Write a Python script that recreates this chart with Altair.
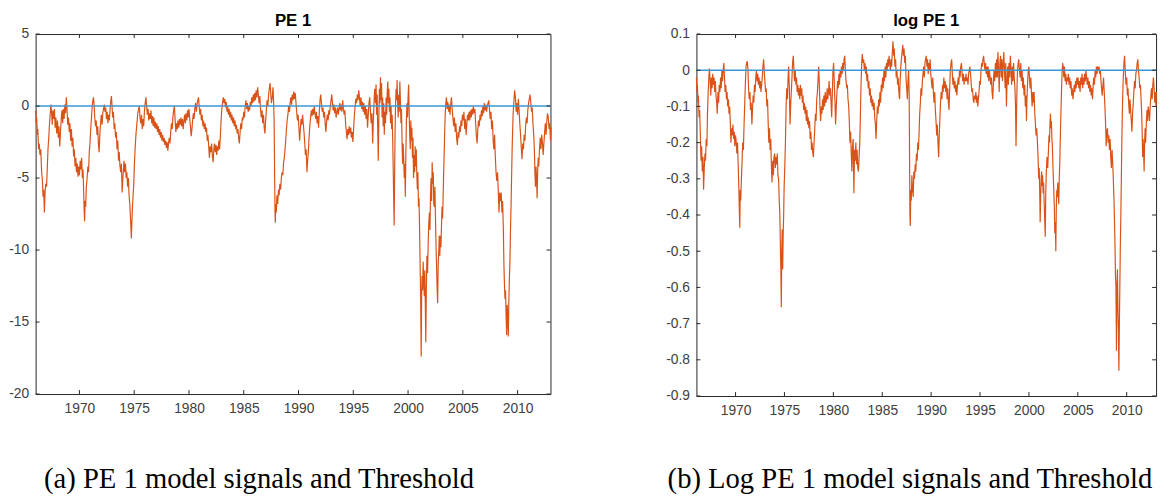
import altair as alt
import pandas as pd

# ---------------- data ----------------
# (year, PE 1 model signal)
pe1_points = [
    (1966.00, -0.3), (1966.05, -1.2), (1966.10, -0.8), (1966.15, -2.0), (1966.20, -1.6), (1966.27, -3.0), (1966.33, -2.6),
    (1966.40, -3.4), (1966.47, -3.0), (1966.55, -4.6), (1966.62, -5.2), (1966.68, -6.3), (1966.74, -5.8), (1966.80, -7.4),
    (1966.86, -6.0), (1966.92, -5.4),
    (1967.00, -5.6), (1967.07, -4.2), (1967.13, -3.0), (1967.20, -2.2), (1967.27, -1.2), (1967.33, -0.6), (1967.40, 0.1),
    (1967.46, -0.5), (1967.52, -1.3), (1967.58, -0.3), (1967.65, -0.9), (1967.72, -0.2), (1967.78, -1.5), (1967.85, -0.8),
    (1967.92, -1.9),
    (1968.00, -1.0), (1968.07, -2.2), (1968.13, -1.4), (1968.20, -2.8), (1968.27, -1.8), (1968.33, -1.0), (1968.40, -0.3),
    (1968.47, -1.2), (1968.53, -0.2), (1968.60, -0.9), (1968.67, 0.1), (1968.73, -0.5), (1968.80, 0.6), (1968.87, -0.3),
    (1968.93, -1.3),
    (1969.00, -0.8), (1969.07, -1.8), (1969.13, -1.2), (1969.20, -2.4), (1969.27, -1.6), (1969.33, -2.8), (1969.40, -2.2),
    (1969.47, -3.5), (1969.53, -3.0), (1969.60, -4.2), (1969.67, -3.6), (1969.73, -4.6), (1969.80, -4.0), (1969.87, -4.9),
    (1969.93, -4.2),
    (1970.00, -4.8), (1970.07, -3.8), (1970.13, -4.4), (1970.20, -3.6), (1970.27, -5.0), (1970.33, -4.4), (1970.38, -5.8),
    (1970.43, -7.2), (1970.47, -8.0), (1970.52, -6.6), (1970.57, -7.0), (1970.63, -5.6), (1970.70, -5.0), (1970.77, -4.2),
    (1970.83, -4.6), (1970.90, -3.2), (1970.96, -2.6),
    (1971.03, -1.6), (1971.10, -0.8), (1971.17, 0.0), (1971.23, 0.4), (1971.28, 0.6), (1971.33, 0.2), (1971.40, -0.8),
    (1971.47, -1.4), (1971.53, -1.0), (1971.60, -2.0), (1971.67, -1.4), (1971.73, -2.6), (1971.80, -3.2), (1971.86, -2.0),
    (1971.93, -1.2),
    (1972.00, -0.6), (1972.07, -1.3), (1972.13, -0.5), (1972.20, -0.2), (1972.27, 0.1), (1972.33, -0.4), (1972.40, -0.1),
    (1972.47, -0.9), (1972.53, -0.4), (1972.60, -1.2), (1972.67, -0.6), (1972.73, -1.0), (1972.80, -0.2), (1972.87, 0.4),
    (1972.92, 0.7), (1972.97, 0.1),
    (1973.03, -0.8), (1973.10, -0.4), (1973.17, -1.6), (1973.23, -1.2), (1973.30, -2.2), (1973.37, -1.8), (1973.43, -3.0),
    (1973.50, -2.4), (1973.57, -3.8), (1973.63, -3.2), (1973.70, -4.2), (1973.77, -4.6), (1973.83, -4.0), (1973.90, -6.0),
    (1973.95, -5.2),
    (1974.00, -4.6), (1974.07, -3.8), (1974.13, -4.6), (1974.20, -4.0), (1974.27, -5.0), (1974.33, -4.6), (1974.40, -5.6),
    (1974.47, -5.0), (1974.53, -6.2), (1974.60, -6.8), (1974.65, -7.6), (1974.70, -8.4), (1974.74, -9.2), (1974.78, -8.2),
    (1974.84, -7.0), (1974.90, -6.2), (1974.96, -5.4),
    (1975.02, -4.0), (1975.08, -3.0), (1975.14, -2.2), (1975.20, -1.6), (1975.27, -1.0), (1975.33, -0.5), (1975.40, -0.2),
    (1975.47, 0.0), (1975.53, -0.8), (1975.60, -1.2), (1975.67, -0.6), (1975.73, -1.6), (1975.80, -0.9), (1975.87, -1.4),
    (1975.93, -0.4),
    (1976.00, 0.2), (1976.07, 0.6), (1976.13, 0.0), (1976.20, -0.6), (1976.27, -0.2), (1976.33, -1.0), (1976.40, -0.5),
    (1976.47, -0.9), (1976.53, -0.3), (1976.60, -1.2), (1976.67, -0.7), (1976.73, -1.4), (1976.80, -0.8), (1976.87, -1.5),
    (1976.93, -1.1),
    (1977.00, -1.6), (1977.07, -1.2), (1977.13, -1.8), (1977.20, -1.4), (1977.27, -2.0), (1977.33, -1.6), (1977.40, -2.2),
    (1977.47, -1.8), (1977.53, -2.4), (1977.60, -2.0), (1977.67, -2.5), (1977.73, -2.2), (1977.80, -2.7), (1977.87, -2.4),
    (1977.93, -2.9),
    (1978.00, -2.5), (1978.07, -3.1), (1978.13, -2.6), (1978.20, -2.2), (1978.27, -2.6), (1978.33, -1.8), (1978.40, -1.2),
    (1978.47, -1.6), (1978.53, -0.8), (1978.60, -0.3), (1978.67, 0.0), (1978.73, -0.9), (1978.80, -1.8), (1978.87, -1.2),
    (1978.93, -1.6),
    (1979.00, -1.0), (1979.07, -1.5), (1979.13, -0.9), (1979.20, -1.3), (1979.27, -0.8), (1979.33, -1.4), (1979.40, -0.9),
    (1979.47, -1.6), (1979.53, -1.1), (1979.60, -0.6), (1979.67, -1.2), (1979.73, -0.5), (1979.80, -1.0), (1979.87, -0.3),
    (1979.93, -0.8),
    (1980.00, -0.2), (1980.07, -0.9), (1980.13, -1.4), (1980.20, -2.1), (1980.27, -1.6), (1980.33, -1.0), (1980.40, -0.5),
    (1980.47, -0.9), (1980.53, -0.2), (1980.60, 0.2), (1980.67, -0.4), (1980.73, 0.1), (1980.80, 0.4), (1980.87, 0.6),
    (1980.93, 0.0),
    (1981.00, -0.6), (1981.07, -0.2), (1981.13, -1.0), (1981.20, -0.6), (1981.27, -1.4), (1981.33, -1.0), (1981.40, -1.6),
    (1981.47, -1.2), (1981.53, -1.8), (1981.60, -1.5), (1981.67, -2.4), (1981.73, -2.0), (1981.80, -2.8), (1981.87, -3.6),
    (1981.93, -2.8),
    (1982.00, -3.2), (1982.07, -2.6), (1982.13, -3.4), (1982.20, -3.9), (1982.27, -3.0), (1982.33, -2.6), (1982.40, -3.2),
    (1982.47, -2.7), (1982.53, -3.4), (1982.60, -2.8), (1982.67, -3.1), (1982.73, -2.4), (1982.80, -3.0), (1982.87, -2.0),
    (1982.93, -1.0),
    (1983.00, -0.2), (1983.07, 0.3), (1983.13, 0.6), (1983.20, 0.2), (1983.27, 0.5), (1983.33, -0.1), (1983.40, 0.3),
    (1983.47, -0.4), (1983.53, 0.0), (1983.60, -0.6), (1983.67, -0.2), (1983.73, -0.8), (1983.80, -0.4), (1983.87, -1.0),
    (1983.93, -0.6),
    (1984.00, -1.2), (1984.07, -0.8), (1984.13, -1.4), (1984.20, -1.0), (1984.27, -1.6), (1984.33, -1.3), (1984.40, -1.9),
    (1984.47, -1.6), (1984.53, -2.2), (1984.60, -2.6), (1984.67, -1.8), (1984.73, -1.2), (1984.80, -1.6), (1984.87, -0.8),
    (1984.93, -1.0),
    (1985.00, -0.4), (1985.07, -0.8), (1985.13, 0.0), (1985.20, 0.4), (1985.27, -0.2), (1985.33, 0.2), (1985.40, -0.4),
    (1985.47, 0.0), (1985.53, -0.3), (1985.60, 0.3), (1985.67, 0.0), (1985.73, 0.6), (1985.80, 0.2), (1985.87, 0.8),
    (1985.93, 0.3),
    (1986.00, 0.9), (1986.07, 0.4), (1986.13, 1.1), (1986.20, 0.6), (1986.27, 1.3), (1986.33, 0.8), (1986.40, 0.2),
    (1986.47, 0.7), (1986.53, -0.2), (1986.60, -0.8), (1986.67, -0.3), (1986.73, -1.2), (1986.80, -0.6), (1986.87, -1.5),
    (1986.93, -1.9),
    (1987.00, -1.0), (1987.07, -0.2), (1987.13, 0.4), (1987.20, 0.0), (1987.27, 0.8), (1987.33, 1.2), (1987.40, 1.6),
    (1987.47, 0.8), (1987.53, 0.2), (1987.60, 0.6), (1987.67, 1.3), (1987.72, 0.4), (1987.77, -1.0), (1987.81, -4.0),
    (1987.85, -7.2), (1987.88, -8.1), (1987.93, -6.8), (1987.97, -7.4),
    (1988.03, -6.2), (1988.10, -6.8), (1988.17, -5.8), (1988.23, -6.2), (1988.30, -5.4), (1988.37, -5.8), (1988.43, -5.0),
    (1988.50, -4.6), (1988.57, -4.8), (1988.63, -4.0), (1988.70, -3.6), (1988.77, -3.0), (1988.83, -2.4), (1988.90, -1.6),
    (1988.96, -1.0),
    (1989.03, -0.6), (1989.10, 0.0), (1989.17, -0.4), (1989.23, 0.2), (1989.30, 0.6), (1989.37, 0.1), (1989.43, 0.8),
    (1989.50, 0.4), (1989.57, 1.0), (1989.63, 0.5), (1989.70, 0.9), (1989.77, 0.2), (1989.83, -0.4), (1989.90, -1.0),
    (1989.96, -0.6),
    (1990.03, -1.4), (1990.10, -2.4), (1990.17, -1.6), (1990.23, -0.9), (1990.30, -1.3), (1990.37, -0.6), (1990.43, -1.2),
    (1990.50, -1.8), (1990.57, -2.6), (1990.63, -3.4), (1990.70, -3.0), (1990.77, -4.6), (1990.83, -3.8), (1990.90, -3.2),
    (1990.96, -2.2),
    (1991.03, -1.4), (1991.10, -0.8), (1991.17, -0.3), (1991.23, -0.7), (1991.30, -0.2), (1991.37, -0.6), (1991.43, 0.0),
    (1991.50, -0.5), (1991.57, -0.9), (1991.63, -0.4), (1991.70, -1.2), (1991.77, -0.7), (1991.83, -1.5), (1991.90, -0.4),
    (1991.96, 0.4),
    (1992.03, 0.8), (1992.10, 0.1), (1992.17, -0.4), (1992.23, -0.1), (1992.30, -0.8), (1992.37, -0.4), (1992.43, -1.2),
    (1992.50, -1.8), (1992.57, -1.0), (1992.63, -0.6), (1992.70, -1.0), (1992.77, -0.3), (1992.83, -0.6), (1992.90, 0.0),
    (1992.96, 0.3),
    (1993.03, 0.8), (1993.10, 0.2), (1993.17, -0.3), (1993.23, 0.1), (1993.30, -0.5), (1993.37, -0.1), (1993.43, -0.8),
    (1993.50, -0.4), (1993.57, -0.1), (1993.63, -0.6), (1993.70, -0.2), (1993.77, 0.2), (1993.83, -0.3), (1993.90, 0.1),
    (1993.96, -0.4),
    (1994.03, 0.4), (1994.10, -0.2), (1994.17, -0.6), (1994.23, -0.3), (1994.30, -1.2), (1994.37, -1.8), (1994.43, -2.3),
    (1994.50, -1.6), (1994.57, -2.0), (1994.63, -1.4), (1994.70, -1.9), (1994.77, -1.5), (1994.83, -2.2), (1994.90, -1.8),
    (1994.96, -2.5),
    (1995.03, -1.6), (1995.10, -0.6), (1995.17, 0.0), (1995.23, 0.5), (1995.30, 0.2), (1995.37, 0.8), (1995.43, 0.4),
    (1995.50, 1.1), (1995.57, 0.5), (1995.63, 0.0), (1995.70, 0.6), (1995.77, -0.2), (1995.83, 0.3), (1995.90, -0.4),
    (1995.96, 0.2),
    (1996.03, -0.6), (1996.10, 0.0), (1996.17, -0.9), (1996.23, -0.2), (1996.30, -1.5), (1996.37, -0.6), (1996.43, 0.2),
    (1996.50, 0.6), (1996.57, -0.4), (1996.63, -1.2), (1996.70, -0.5), (1996.77, -2.6), (1996.83, -1.0), (1996.90, 0.4),
    (1996.96, 1.2),
    (1997.03, 0.2), (1997.08, 1.5), (1997.13, -0.6), (1997.18, 0.8), (1997.23, -1.6), (1997.28, -3.8), (1997.33, -1.0),
    (1997.38, 1.2), (1997.43, 0.2), (1997.48, 2.0), (1997.53, 0.4), (1997.58, 1.6), (1997.63, -0.8), (1997.68, 0.6),
    (1997.73, -1.4), (1997.78, 0.2), (1997.83, -2.0), (1997.88, -0.4), (1997.94, -1.2),
    (1998.00, 0.6), (1998.05, -0.6), (1998.10, 1.0), (1998.15, 1.7), (1998.20, 0.2), (1998.25, 1.2), (1998.30, -0.4),
    (1998.35, 0.6), (1998.40, -1.2), (1998.45, 0.0), (1998.50, -1.6), (1998.55, -0.6), (1998.60, -2.4), (1998.65, -4.6),
    (1998.70, -7.0), (1998.73, -8.3), (1998.77, -5.0), (1998.81, -2.0), (1998.86, 0.2), (1998.91, 1.2), (1998.96, 0.4),
    (1999.00, 1.8), (1999.05, 0.2), (1999.10, -0.8), (1999.15, 0.8), (1999.20, -0.4), (1999.25, 1.7), (1999.30, 0.4),
    (1999.35, -1.2), (1999.40, -0.2), (1999.45, -2.4), (1999.50, -4.0), (1999.55, -2.6), (1999.60, -3.6), (1999.65, -5.0),
    (1999.70, -4.0), (1999.75, -6.3), (1999.80, -3.2), (1999.85, -1.0), (1999.90, 0.2), (1999.95, -0.8),
    (2000.00, 0.6), (2000.05, 1.5), (2000.10, -0.4), (2000.15, -2.0), (2000.20, -3.0), (2000.25, -1.0), (2000.30, -2.4),
    (2000.35, -1.5), (2000.40, -3.6), (2000.45, -2.2), (2000.50, -5.0), (2000.55, -3.4), (2000.60, -4.6), (2000.65, -2.8),
    (2000.70, -4.2), (2000.75, -3.0), (2000.80, -4.8), (2000.85, -5.8), (2000.90, -4.6), (2000.95, -7.0),
    (2001.00, -6.4), (2001.05, -8.4), (2001.10, -11.0), (2001.15, -13.4), (2001.20, -17.4), (2001.24, -13.0),
    (2001.28, -11.8), (2001.33, -12.8), (2001.38, -10.8), (2001.43, -12.2), (2001.48, -13.2), (2001.53, -11.4),
    (2001.58, -14.0), (2001.62, -16.4), (2001.67, -12.6), (2001.72, -10.4), (2001.78, -11.6), (2001.84, -9.4),
    (2001.90, -8.0), (2001.95, -7.4),
    (2002.00, -8.6), (2002.05, -6.2), (2002.10, -5.0), (2002.15, -6.6), (2002.20, -3.9), (2002.25, -5.4), (2002.30, -4.6),
    (2002.35, -6.8), (2002.40, -7.0), (2002.45, -5.6), (2002.50, -7.6), (2002.55, -9.6), (2002.60, -11.0),
    (2002.65, -12.6), (2002.70, -13.7), (2002.75, -11.0), (2002.80, -10.2), (2002.85, -9.0), (2002.90, -10.4),
    (2002.95, -9.0),
    (2003.00, -9.8), (2003.05, -8.4), (2003.10, -7.0), (2003.15, -7.8), (2003.20, -6.4), (2003.25, -4.6), (2003.30, -3.2),
    (2003.35, -1.6), (2003.40, -0.4), (2003.45, 0.2), (2003.50, 0.6), (2003.57, -0.2), (2003.63, 0.3), (2003.70, -0.4),
    (2003.77, 0.1), (2003.83, -0.6), (2003.90, 0.2), (2003.96, 0.6),
    (2004.03, -0.2), (2004.10, -0.9), (2004.17, -1.4), (2004.23, -0.8), (2004.30, -1.8), (2004.37, -1.2), (2004.43, -2.2),
    (2004.50, -2.7), (2004.57, -1.8), (2004.63, -2.2), (2004.70, -1.4), (2004.77, -1.8), (2004.83, -1.0), (2004.90, -1.4),
    (2004.96, -0.6),
    (2005.03, -1.0), (2005.10, -0.4), (2005.17, -1.6), (2005.23, -0.9), (2005.30, -2.0), (2005.37, -1.2), (2005.43, -0.6),
    (2005.50, -1.0), (2005.57, -0.4), (2005.63, -1.0), (2005.70, -0.3), (2005.77, -0.8), (2005.83, -0.2), (2005.90, -0.6),
    (2005.96, 0.0),
    (2006.03, -0.5), (2006.10, -0.2), (2006.17, -1.2), (2006.23, -2.0), (2006.30, -2.6), (2006.37, -1.6), (2006.43, -1.0),
    (2006.50, -1.4), (2006.57, -0.6), (2006.63, -1.0), (2006.70, -0.3), (2006.77, -0.7), (2006.83, 0.0), (2006.90, -0.5),
    (2006.96, 0.2),
    (2007.03, -0.3), (2007.10, 0.1), (2007.17, -0.4), (2007.23, 0.0), (2007.30, 0.2), (2007.37, 0.4), (2007.43, -0.2),
    (2007.50, -0.9), (2007.57, -0.4), (2007.63, -1.6), (2007.70, -1.0), (2007.77, -2.4), (2007.83, -3.0), (2007.90, -2.0),
    (2007.96, -3.4),
    (2008.03, -4.6), (2008.10, -5.2), (2008.17, -4.6), (2008.23, -5.8), (2008.30, -7.4), (2008.37, -6.0), (2008.43, -6.6),
    (2008.50, -6.0), (2008.57, -7.4), (2008.63, -6.6), (2008.70, -8.6), (2008.75, -11.0), (2008.80, -12.4),
    (2008.85, -13.4), (2008.90, -12.8), (2008.95, -14.6),
    (2009.00, -15.9), (2009.05, -13.8), (2009.10, -14.6), (2009.15, -16.0), (2009.20, -13.6), (2009.25, -12.0),
    (2009.30, -10.8), (2009.35, -8.6), (2009.40, -7.0), (2009.45, -5.0), (2009.50, -3.0), (2009.55, -1.6), (2009.60, -0.4),
    (2009.67, 0.4), (2009.73, 1.1), (2009.80, 0.6), (2009.87, -0.4), (2009.93, 0.2),
    (2010.00, -0.6), (2010.07, 0.5), (2010.13, -0.2), (2010.20, -1.2), (2010.27, -2.0), (2010.33, -2.8), (2010.40, -3.7),
    (2010.47, -2.6), (2010.53, -3.0), (2010.60, -2.0), (2010.67, -2.4), (2010.73, -1.4), (2010.80, -0.8), (2010.87, -1.2),
    (2010.93, -0.3),
    (2011.00, 0.2), (2011.07, 0.5), (2011.13, 0.8), (2011.20, 0.3), (2011.27, -0.4), (2011.33, -0.1), (2011.40, -1.2),
    (2011.47, -2.0), (2011.53, -3.0), (2011.58, -4.6), (2011.63, -5.6), (2011.68, -4.2), (2011.73, -5.0), (2011.78, -6.4),
    (2011.83, -4.6), (2011.88, -3.6), (2011.93, -4.2),
    (2012.00, -3.0), (2012.07, -2.2), (2012.13, -3.0), (2012.20, -2.0), (2012.27, -2.6), (2012.33, -3.4), (2012.40, -2.6),
    (2012.47, -1.8), (2012.53, -1.2), (2012.60, -2.0), (2012.67, -1.0), (2012.73, -0.5), (2012.80, -0.8), (2012.87, -1.6),
    (2012.93, -1.2),
    (2013.00, -2.4), (2013.06, -1.5),
]

# (year, log PE 1 model signal)
logpe1_points = [
    (1966.00, -0.02), (1966.05, -0.06), (1966.10, -0.04), (1966.15, -0.09), (1966.20, -0.07), (1966.27, -0.13),
    (1966.33, -0.11), (1966.40, -0.18), (1966.47, -0.25), (1966.53, -0.21), (1966.60, -0.28), (1966.67, -0.24),
    (1966.73, -0.33), (1966.80, -0.27), (1966.87, -0.23), (1966.93, -0.25),
    (1967.00, -0.19), (1967.07, -0.21), (1967.13, -0.12), (1967.20, -0.06), (1967.27, -0.02), (1967.33, 0.005),
    (1967.40, -0.03), (1967.47, -0.07), (1967.53, -0.02), (1967.60, -0.05), (1967.67, -0.01), (1967.73, -0.04),
    (1967.80, -0.02), (1967.87, -0.06), (1967.93, -0.03),
    (1968.00, -0.07), (1968.07, -0.09), (1968.13, -0.12), (1968.20, -0.06), (1968.27, -0.09), (1968.33, -0.04),
    (1968.40, -0.06), (1968.47, -0.02), (1968.53, -0.05), (1968.60, 0.0), (1968.67, -0.03), (1968.73, 0.0),
    (1968.80, 0.02), (1968.87, -0.02), (1968.93, -0.06),
    (1969.00, -0.04), (1969.07, -0.08), (1969.13, -0.06), (1969.20, -0.10), (1969.27, -0.08), (1969.33, -0.12),
    (1969.40, -0.10), (1969.47, -0.15), (1969.53, -0.20), (1969.60, -0.16), (1969.67, -0.18), (1969.73, -0.15),
    (1969.80, -0.19), (1969.87, -0.17), (1969.93, -0.21),
    (1970.00, -0.18), (1970.07, -0.20), (1970.13, -0.23), (1970.20, -0.20), (1970.27, -0.26), (1970.33, -0.32),
    (1970.38, -0.38), (1970.43, -0.435), (1970.48, -0.33), (1970.53, -0.36), (1970.60, -0.30), (1970.67, -0.25),
    (1970.73, -0.20), (1970.80, -0.22), (1970.87, -0.15), (1970.93, -0.10),
    (1971.00, -0.04), (1971.07, 0.01), (1971.13, 0.02), (1971.20, 0.025), (1971.27, 0.0), (1971.33, -0.05),
    (1971.40, -0.08), (1971.47, -0.06), (1971.53, -0.11), (1971.60, -0.09), (1971.67, -0.15), (1971.73, -0.11),
    (1971.80, -0.07), (1971.87, -0.09), (1971.93, -0.04),
    (1972.00, -0.06), (1972.07, -0.02), (1972.13, 0.0), (1972.20, -0.03), (1972.27, -0.01), (1972.33, -0.04),
    (1972.40, -0.02), (1972.47, -0.05), (1972.53, -0.03), (1972.60, -0.06), (1972.67, -0.04), (1972.73, -0.02),
    (1972.80, 0.01), (1972.87, 0.03), (1972.93, 0.0),
    (1973.00, -0.03), (1973.07, -0.06), (1973.13, -0.05), (1973.20, -0.10), (1973.27, -0.08), (1973.33, -0.14),
    (1973.40, -0.20), (1973.47, -0.16), (1973.53, -0.22), (1973.60, -0.19), (1973.67, -0.27), (1973.73, -0.31),
    (1973.80, -0.25), (1973.87, -0.29), (1973.93, -0.24),
    (1974.00, -0.23), (1974.07, -0.27), (1974.13, -0.24), (1974.20, -0.26), (1974.27, -0.23), (1974.33, -0.29),
    (1974.40, -0.30), (1974.47, -0.36), (1974.53, -0.40), (1974.58, -0.48), (1974.63, -0.55), (1974.68, -0.655),
    (1974.72, -0.50), (1974.77, -0.44), (1974.82, -0.55), (1974.87, -0.45), (1974.92, -0.40), (1974.97, -0.32),
    (1975.03, -0.27), (1975.10, -0.20), (1975.17, -0.10), (1975.23, -0.05), (1975.30, -0.08), (1975.37, -0.02),
    (1975.43, 0.01), (1975.50, -0.05), (1975.57, -0.15), (1975.63, -0.10), (1975.70, -0.06), (1975.77, -0.02),
    (1975.83, 0.02), (1975.90, 0.04), (1975.96, 0.01),
    (1976.03, -0.03), (1976.10, 0.0), (1976.17, -0.04), (1976.23, -0.02), (1976.30, -0.06), (1976.37, -0.04),
    (1976.43, -0.07), (1976.50, -0.05), (1976.57, -0.08), (1976.63, -0.04), (1976.70, -0.07), (1976.77, -0.05),
    (1976.83, -0.09), (1976.90, -0.07), (1976.96, -0.11),
    (1977.03, -0.09), (1977.10, -0.12), (1977.17, -0.10), (1977.23, -0.14), (1977.30, -0.11), (1977.37, -0.15),
    (1977.43, -0.13), (1977.50, -0.16), (1977.57, -0.14), (1977.63, -0.19), (1977.70, -0.17), (1977.77, -0.22),
    (1977.83, -0.20), (1977.90, -0.23), (1977.96, -0.24),
    (1978.03, -0.20), (1978.10, -0.16), (1978.17, -0.12), (1978.23, -0.14), (1978.30, -0.08), (1978.37, -0.06),
    (1978.43, -0.03), (1978.50, 0.01), (1978.57, -0.04), (1978.63, -0.10), (1978.70, -0.14), (1978.77, -0.10),
    (1978.83, -0.12), (1978.90, -0.08), (1978.96, -0.11),
    (1979.03, -0.07), (1979.10, -0.10), (1979.17, -0.06), (1979.23, -0.09), (1979.30, -0.08), (1979.37, -0.05),
    (1979.43, -0.08), (1979.50, -0.06), (1979.57, -0.03), (1979.63, -0.07), (1979.70, -0.05), (1979.77, -0.09),
    (1979.83, -0.13), (1979.90, -0.06), (1979.96, 0.0),
    (1980.03, 0.02), (1980.10, -0.04), (1980.17, -0.09), (1980.23, -0.15), (1980.30, -0.10), (1980.37, -0.06),
    (1980.43, -0.03), (1980.50, -0.05), (1980.57, -0.01), (1980.63, -0.04), (1980.70, 0.0), (1980.77, -0.02),
    (1980.83, 0.01), (1980.90, -0.01), (1980.96, 0.02),
    (1981.03, 0.0), (1981.10, 0.03), (1981.17, 0.04), (1981.23, 0.0), (1981.30, -0.03), (1981.37, -0.05),
    (1981.43, -0.04), (1981.50, -0.08), (1981.57, -0.10), (1981.63, -0.14), (1981.70, -0.20), (1981.77, -0.17),
    (1981.83, -0.23), (1981.90, -0.28), (1981.96, -0.21),
    (1982.03, -0.19), (1982.10, -0.34), (1982.17, -0.22), (1982.23, -0.25), (1982.30, -0.20), (1982.37, -0.26),
    (1982.43, -0.22), (1982.50, -0.27), (1982.57, -0.28), (1982.63, -0.24), (1982.70, -0.20), (1982.77, -0.12),
    (1982.83, -0.04), (1982.90, 0.02), (1982.96, 0.045),
    (1983.03, 0.02), (1983.10, 0.03), (1983.17, 0.0), (1983.23, 0.02), (1983.30, -0.01), (1983.37, 0.01),
    (1983.43, -0.03), (1983.50, -0.01), (1983.57, -0.05), (1983.63, -0.03), (1983.70, -0.07), (1983.77, -0.05),
    (1983.83, -0.09), (1983.90, -0.07), (1983.96, -0.10),
    (1984.03, -0.08), (1984.10, -0.11), (1984.17, -0.09), (1984.23, -0.13), (1984.30, -0.15), (1984.37, -0.19),
    (1984.43, -0.14), (1984.50, -0.10), (1984.57, -0.12), (1984.63, -0.08), (1984.70, -0.10), (1984.77, -0.06),
    (1984.83, -0.09), (1984.90, -0.04), (1984.96, -0.06),
    (1985.03, -0.02), (1985.10, -0.05), (1985.17, 0.0), (1985.23, -0.03), (1985.30, 0.01), (1985.37, -0.02),
    (1985.43, 0.02), (1985.50, 0.0), (1985.57, 0.03), (1985.63, 0.01), (1985.70, 0.04), (1985.77, 0.02),
    (1985.83, 0.0), (1985.90, 0.03), (1985.96, 0.01),
    (1986.03, 0.05), (1986.10, 0.08), (1986.17, 0.04), (1986.23, 0.06), (1986.30, 0.01), (1986.37, 0.03),
    (1986.43, -0.02), (1986.50, 0.0), (1986.57, -0.04), (1986.63, -0.02), (1986.70, -0.06), (1986.77, -0.08),
    (1986.83, -0.03), (1986.90, 0.01), (1986.96, 0.03),
    (1987.03, 0.05), (1987.10, 0.07), (1987.17, 0.04), (1987.23, 0.06), (1987.30, 0.02), (1987.37, 0.04),
    (1987.43, -0.02), (1987.50, -0.05), (1987.57, -0.08), (1987.63, -0.03), (1987.70, 0.0), (1987.75, -0.06),
    (1987.79, -0.22), (1987.83, -0.40), (1987.87, -0.43), (1987.92, -0.33), (1987.97, -0.36),
    (1988.03, -0.29), (1988.10, -0.33), (1988.17, -0.35), (1988.23, -0.28), (1988.30, -0.30), (1988.37, -0.26),
    (1988.43, -0.28), (1988.50, -0.23), (1988.57, -0.25), (1988.63, -0.20), (1988.70, -0.22), (1988.77, -0.17),
    (1988.83, -0.12), (1988.90, -0.09), (1988.96, -0.05),
    (1989.03, -0.07), (1989.10, -0.03), (1989.17, -0.01), (1989.23, 0.01), (1989.30, -0.02), (1989.37, 0.02),
    (1989.43, 0.03), (1989.50, 0.04), (1989.57, 0.01), (1989.63, 0.03), (1989.70, -0.01), (1989.77, 0.02),
    (1989.83, 0.0), (1989.90, 0.03), (1989.96, -0.01),
    (1990.03, -0.03), (1990.10, -0.05), (1990.17, -0.02), (1990.23, -0.06), (1990.30, -0.09), (1990.37, -0.06),
    (1990.43, -0.11), (1990.50, -0.14), (1990.57, -0.18), (1990.63, -0.15), (1990.70, -0.20), (1990.77, -0.24),
    (1990.83, -0.18), (1990.90, -0.13), (1990.96, -0.09),
    (1991.03, -0.06), (1991.10, -0.08), (1991.17, -0.04), (1991.23, -0.06), (1991.30, -0.02), (1991.37, -0.05),
    (1991.43, -0.03), (1991.50, -0.06), (1991.57, -0.04), (1991.63, -0.08), (1991.70, -0.05), (1991.77, -0.09),
    (1991.83, -0.11), (1991.90, -0.05), (1991.96, 0.0),
    (1992.03, 0.02), (1992.10, 0.03), (1992.17, -0.01), (1992.23, -0.04), (1992.30, -0.02), (1992.37, -0.05),
    (1992.43, -0.03), (1992.50, -0.06), (1992.57, -0.04), (1992.63, -0.07), (1992.70, -0.04), (1992.77, -0.02),
    (1992.83, -0.04), (1992.90, 0.0), (1992.96, -0.02),
    (1993.03, 0.01), (1993.10, 0.02), (1993.17, -0.01), (1993.23, -0.03), (1993.30, -0.01), (1993.37, -0.04),
    (1993.43, -0.02), (1993.50, -0.03), (1993.57, -0.01), (1993.63, -0.03), (1993.70, -0.02), (1993.77, -0.04),
    (1993.83, -0.01), (1993.90, 0.0), (1993.96, 0.01),
    (1994.03, -0.01), (1994.10, -0.04), (1994.17, -0.06), (1994.23, -0.05), (1994.30, -0.08), (1994.37, -0.09),
    (1994.43, -0.07), (1994.50, -0.08), (1994.57, -0.06), (1994.63, -0.09), (1994.70, -0.07), (1994.77, -0.10),
    (1994.83, -0.08), (1994.90, -0.06), (1994.96, -0.03),
    (1995.03, -0.04), (1995.10, 0.0), (1995.17, 0.02), (1995.23, 0.01), (1995.30, 0.03), (1995.37, 0.04),
    (1995.43, 0.02), (1995.50, 0.0), (1995.57, 0.02), (1995.63, -0.01), (1995.70, 0.01), (1995.77, -0.02),
    (1995.83, 0.01), (1995.90, -0.03), (1995.96, 0.0),
    (1996.03, -0.02), (1996.10, -0.04), (1996.17, -0.02), (1996.23, -0.06), (1996.30, -0.08), (1996.37, -0.03),
    (1996.43, 0.0), (1996.50, -0.03), (1996.57, 0.02), (1996.63, -0.02), (1996.70, 0.03), (1996.77, -0.02),
    (1996.83, 0.05), (1996.90, 0.0), (1996.96, -0.06),
    (1997.03, 0.02), (1997.10, 0.04), (1997.17, -0.02), (1997.23, 0.03), (1997.30, -0.03), (1997.37, 0.02),
    (1997.43, 0.05), (1997.50, 0.0), (1997.57, -0.05), (1997.63, 0.02), (1997.70, -0.10), (1997.77, -0.03),
    (1997.83, 0.01), (1997.90, -0.04), (1997.96, 0.02),
    (1998.03, -0.02), (1998.10, 0.04), (1998.17, 0.0), (1998.23, -0.04), (1998.30, 0.01), (1998.37, -0.03),
    (1998.43, 0.02), (1998.50, -0.02), (1998.57, -0.05), (1998.63, -0.10), (1998.68, -0.21), (1998.73, -0.12),
    (1998.78, -0.05), (1998.83, 0.0), (1998.90, 0.02), (1998.96, 0.03),
    (1999.03, 0.0), (1999.10, -0.02), (1999.17, 0.02), (1999.23, -0.03), (1999.30, 0.0), (1999.37, -0.05),
    (1999.43, -0.02), (1999.50, -0.07), (1999.57, -0.04), (1999.63, -0.10), (1999.70, -0.07), (1999.75, -0.14),
    (1999.80, -0.08), (1999.87, -0.03), (1999.93, 0.0),
    (2000.00, 0.01), (2000.07, -0.03), (2000.13, -0.05), (2000.20, -0.02), (2000.27, -0.07), (2000.33, -0.10),
    (2000.40, -0.06), (2000.47, -0.09), (2000.53, -0.06), (2000.60, -0.12), (2000.67, -0.15), (2000.73, -0.18),
    (2000.80, -0.16), (2000.87, -0.20), (2000.93, -0.24),
    (2001.00, -0.30), (2001.05, -0.27), (2001.10, -0.33), (2001.15, -0.42), (2001.20, -0.35), (2001.25, -0.30),
    (2001.30, -0.28), (2001.35, -0.32), (2001.40, -0.29), (2001.45, -0.34), (2001.50, -0.31), (2001.55, -0.36),
    (2001.60, -0.40), (2001.67, -0.46), (2001.72, -0.34), (2001.78, -0.28), (2001.85, -0.24), (2001.92, -0.27),
    (2002.00, -0.22), (2002.05, -0.18), (2002.10, -0.20), (2002.15, -0.15), (2002.20, -0.12), (2002.25, -0.16),
    (2002.30, -0.14), (2002.35, -0.19), (2002.40, -0.21), (2002.45, -0.26), (2002.50, -0.30), (2002.55, -0.34),
    (2002.60, -0.38), (2002.65, -0.45), (2002.70, -0.42), (2002.75, -0.50), (2002.80, -0.38), (2002.85, -0.33),
    (2002.90, -0.35), (2002.95, -0.31),
    (2003.00, -0.34), (2003.05, -0.37), (2003.10, -0.30), (2003.15, -0.26), (2003.20, -0.20), (2003.25, -0.14),
    (2003.30, -0.09), (2003.35, -0.04), (2003.40, 0.0), (2003.45, 0.02), (2003.50, 0.01), (2003.57, -0.02),
    (2003.63, 0.01), (2003.70, -0.03), (2003.77, -0.01), (2003.83, -0.04), (2003.90, -0.02), (2003.96, -0.03),
    (2004.03, -0.01), (2004.10, -0.04), (2004.17, -0.02), (2004.23, -0.05), (2004.30, -0.03), (2004.37, -0.07),
    (2004.43, -0.05), (2004.50, -0.08), (2004.57, -0.06), (2004.63, -0.04), (2004.70, -0.06), (2004.77, -0.03),
    (2004.83, -0.05), (2004.90, -0.02), (2004.96, -0.04),
    (2005.03, -0.02), (2005.10, -0.05), (2005.17, -0.03), (2005.23, -0.06), (2005.30, -0.02), (2005.37, -0.04),
    (2005.43, -0.01), (2005.50, -0.05), (2005.57, -0.02), (2005.63, -0.04), (2005.70, -0.01), (2005.77, -0.03),
    (2005.83, 0.0), (2005.90, -0.02), (2005.96, -0.04),
    (2006.03, -0.02), (2006.10, -0.05), (2006.17, -0.03), (2006.23, -0.06), (2006.30, -0.04), (2006.37, -0.07),
    (2006.43, -0.05), (2006.50, -0.08), (2006.57, -0.04), (2006.63, -0.02), (2006.70, -0.04), (2006.77, 0.0),
    (2006.83, -0.02), (2006.90, 0.01), (2006.96, -0.01),
    (2007.03, 0.01), (2007.10, 0.0), (2007.17, 0.01), (2007.23, -0.01), (2007.30, 0.0), (2007.37, -0.03),
    (2007.43, -0.05), (2007.50, -0.07), (2007.57, -0.04), (2007.63, -0.02), (2007.70, -0.06), (2007.77, -0.10),
    (2007.83, -0.14), (2007.90, -0.21), (2007.96, -0.17),
    (2008.03, -0.16), (2008.10, -0.20), (2008.17, -0.18), (2008.23, -0.22), (2008.30, -0.19), (2008.37, -0.24),
    (2008.43, -0.27), (2008.50, -0.22), (2008.57, -0.26), (2008.63, -0.30), (2008.70, -0.36), (2008.75, -0.42),
    (2008.80, -0.48), (2008.85, -0.57), (2008.90, -0.60), (2008.95, -0.775),
    (2009.00, -0.60), (2009.05, -0.55), (2009.10, -0.66), (2009.15, -0.72), (2009.20, -0.83), (2009.25, -0.70),
    (2009.30, -0.59), (2009.35, -0.48), (2009.40, -0.40), (2009.45, -0.30), (2009.50, -0.20), (2009.55, -0.12),
    (2009.60, -0.06), (2009.65, -0.02), (2009.72, 0.02), (2009.78, 0.04), (2009.85, 0.0), (2009.92, -0.04),
    (2010.00, -0.02), (2010.07, -0.07), (2010.13, -0.05), (2010.20, -0.09), (2010.27, -0.12), (2010.33, -0.08),
    (2010.40, -0.11), (2010.47, -0.14), (2010.53, -0.17), (2010.60, -0.12), (2010.67, -0.09), (2010.73, -0.06),
    (2010.80, -0.03), (2010.87, -0.05), (2010.93, -0.01),
    (2011.00, 0.0), (2011.07, 0.02), (2011.13, 0.03), (2011.20, 0.0), (2011.27, -0.02), (2011.33, -0.05),
    (2011.40, -0.04), (2011.47, -0.08), (2011.53, -0.12), (2011.58, -0.17), (2011.63, -0.24), (2011.68, -0.19),
    (2011.73, -0.23), (2011.78, -0.28), (2011.83, -0.20), (2011.88, -0.16), (2011.93, -0.20),
    (2012.00, -0.15), (2012.07, -0.11), (2012.13, -0.14), (2012.20, -0.10), (2012.27, -0.12), (2012.33, -0.14),
    (2012.40, -0.10), (2012.47, -0.07), (2012.53, -0.05), (2012.60, -0.08), (2012.67, -0.04), (2012.73, -0.02),
    (2012.80, -0.05), (2012.87, -0.09), (2012.93, -0.06),
    (2013.00, -0.10), (2013.04, -0.06),
]

year_ticks = [1970, 1975, 1980, 1985, 1990, 1995, 2000, 2005, 2010]
pe1_ticks = [-20, -15, -10, -5, 0, 5]
logpe1_ticks = [-0.9, -0.8, -0.7, -0.6, -0.5, -0.4, -0.3, -0.2, -0.1, 0, 0.1]
threshold = [0]
x_domain = [1966, 2013]

titles = ["PE 1", "log PE 1"]
captions = ["(a) PE 1 model signals and Threshold", "(b)  Log PE 1 model signals and Threshold"]

# ---------------- styling ----------------
ORANGE = "#D95319"
BLUE = "#3A98D8"
FRAME = "#262626"
LABEL = "#404040"
SANS = "Liberation Sans"
SERIF = "Liberation Serif"
TICK = 4


def panel(points, yticks, ydomain, title, caption, width, height, yextent, cap_x, cap_y):
    df = pd.DataFrame(points, columns=["t", "v"])
    xscale = alt.Scale(domain=x_domain, nice=False, zero=False)
    yscale = alt.Scale(domain=ydomain, nice=False, zero=False)

    xaxis = alt.Axis(
        values=year_ticks, labelExpr="'' + datum.value", ticks=False, domain=False, grid=False,
        labelFont=SANS, labelFontSize=14, labelColor=LABEL, labelPadding=8, labelFlush=False,
        title=caption, titleFont=SERIF, titleFontSize=29, titleFontWeight="normal", titleColor="black",
        titleX=cap_x, titleY=cap_y, titleAlign="center", titleBaseline="alphabetic",
    )
    yaxis = alt.Axis(
        values=yticks, labelExpr="'' + datum.value", ticks=False, domain=False, grid=False,
        labelFont=SANS, labelFontSize=14, labelColor=LABEL, labelPadding=7, labelFlush=False,
        title=None, minExtent=yextent, maxExtent=yextent,
    )
    X = alt.X("t:Q", scale=xscale, axis=xaxis)
    Y = alt.Y("v:Q", scale=yscale, axis=yaxis)

    line = alt.Chart(df).mark_line(color=ORANGE, strokeWidth=1.2).encode(x=X, y=Y)
    thr = alt.Chart(pd.DataFrame({"v": threshold})).mark_rule(color=BLUE, strokeWidth=1.5).encode(y=Y)
    xt = pd.DataFrame({"t": year_ticks})
    yt = pd.DataFrame({"v": yticks})
    xb = alt.Chart(xt).mark_rule(color=FRAME, strokeWidth=1).encode(
        x=X, y=alt.value(height), y2=alt.value(height - TICK)
    )
    xtop = alt.Chart(xt).mark_rule(color=FRAME, strokeWidth=1).encode(
        x=X, y=alt.value(0), y2=alt.value(TICK)
    )
    yl = alt.Chart(yt).mark_rule(color=FRAME, strokeWidth=1).encode(
        y=Y, x=alt.value(0), x2=alt.value(TICK)
    )
    yr = alt.Chart(yt).mark_rule(color=FRAME, strokeWidth=1).encode(
        y=Y, x=alt.value(width - TICK), x2=alt.value(width)
    )
    return alt.layer(line, thr, xb, xtop, yl, yr).properties(
        width=width, height=height,
        title=alt.TitleParams(title, font=SANS, fontSize=17, fontWeight="bold", color="black",
                              anchor="middle", offset=-3),
    )


left = panel(pe1_points, pe1_ticks, [-20, 5], titles[0], captions[0], 522, 365, 27, 226, 95)
right = panel(logpe1_points, logpe1_ticks, [-0.9, 0.1], titles[1], captions[1], 466, 367, 40, 216, 93)

chart = alt.hconcat(left, right, spacing=103).properties(padding=0, background="white").configure_view(
    stroke=FRAME, strokeWidth=1
)

chart.save("out.html", embed_options={"renderer": "svg", "actions": False})
